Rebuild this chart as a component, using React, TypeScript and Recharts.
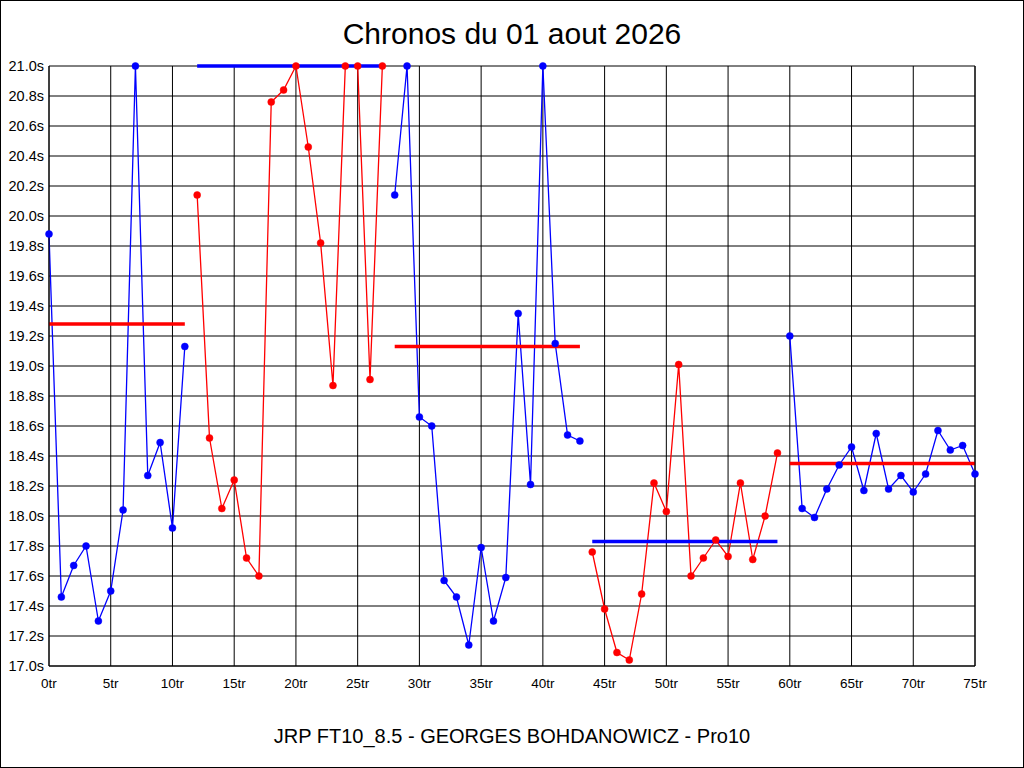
import React from "react";
import { LineChart, Line, XAxis, YAxis, CartesianGrid } from "recharts";

// Lap times per heat (seconds, values above 21.0 shown clipped at 21.0)
const heat1 = [19.88, 17.46, 17.67, 17.8, 17.3, 17.5, 18.04, 21.0, 18.27, 18.49, 17.92, 19.13];
const heat2 = [20.14, 18.52, 18.05, 18.24, 17.72, 17.6, 20.76, 20.84, 21.0, 20.46, 19.82, 18.87, 21.0, 21.0, 18.91, 21.0];
const heat3 = [20.14, 21.0, 18.66, 18.6, 17.57, 17.46, 17.14, 17.79, 17.3, 17.59, 19.35, 18.21, 21.0, 19.15, 18.54, 18.5];
const heat4 = [17.76, 17.38, 17.09, 17.04, 17.48, 18.22, 18.03, 19.01, 17.6, 17.72, 17.84, 17.73, 18.22, 17.71, 18.0, 18.42];
const heat5 = [19.2, 18.05, 17.99, 18.18, 18.34, 18.46, 18.17, 18.55, 18.18, 18.27, 18.16, 18.28, 18.57, 18.44, 18.47, 18.28];
const heats = [heat1, heat2, heat3, heat4, heat5];
const heatAverages = [19.28, 21.0, 19.13, 17.83, 18.35];

const xTicks = [0, 5, 10, 15, 20, 25, 30, 35, 40, 45, 50, 55, 60, 65, 70, 75];
const yTicks = [17.0, 17.2, 17.4, 17.6, 17.8, 18.0, 18.2, 18.4, 18.6, 18.8, 19.0, 19.2, 19.4, 19.6, 19.8, 20.0, 20.2, 20.4, 20.6, 20.8, 21.0];

const title = "Chronos du 01 aout 2026";
const subtitle = "JRP FT10_8.5 - GEORGES BOHDANOWICZ - Pro10";

type Row = {
  lap: number;
  blue: number | null;
  red: number | null;
  avgBlue: number | null;
  avgRed: number | null;
};

const data: Row[] = [];
{
  let lap = 0;
  heats.forEach((heat, h) => {
    heat.forEach((v) => {
      const even = h % 2 === 0;
      data.push({
        lap,
        blue: even ? v : null,
        red: even ? null : v,
        avgBlue: even ? null : heatAverages[h],
        avgRed: even ? heatAverages[h] : null,
      });
      lap += 1;
    });
  });
}

const BLUE = "#0000ff";
const RED = "#ff0000";
const FONT = "'Liberation Sans', Arial, Helvetica, sans-serif";

export default function App() {
  return (
    <div
      style={{
        position: "fixed",
        left: 0,
        top: 0,
        width: 1024,
        height: 768,
        background: "#fff",
        boxSizing: "border-box",
        border: "1px solid #000",
        fontFamily: FONT,
      }}
    >
      <div
        style={{
          position: "absolute",
          left: 0,
          top: 15,
          width: 1022,
          textAlign: "center",
          fontSize: 30,
          lineHeight: "36px",
          color: "#000",
        }}
      >
        {title}
      </div>
      <div style={{ position: "absolute", left: -1, top: -1 }}>
        <LineChart
          width={1024}
          height={768}
          data={data}
          margin={{ top: 66, right: 0, bottom: 0, left: 0 }}
        >
          <CartesianGrid
            yAxisId="left"
            stroke="#000"
            strokeWidth={1}
            strokeDasharray=""
          />
          <XAxis
            dataKey="lap"
            type="number"
            domain={[0, 75]}
            ticks={xTicks}
            interval={0}
            tickFormatter={(v: number) => `${v}tr`}
            tickLine={false}
            tickSize={0}
            tickMargin={12}
            axisLine={{ stroke: "#000" }}
            tick={{ fill: "#000", fontSize: 13.5, fontFamily: FONT }}
            height={102}
          />
          <YAxis
            yAxisId="left"
            type="number"
            domain={[17, 21]}
            ticks={yTicks}
            interval={0}
            tickFormatter={(v: number) => `${v.toFixed(1)}s`}
            tickLine={false}
            tickSize={0}
            tickMargin={5}
            width={49}
            axisLine={{ stroke: "#000" }}
            tick={{ fill: "#000", fontSize: 14.5, fontFamily: FONT }}
          />
          <YAxis
            yAxisId="right"
            orientation="right"
            type="number"
            domain={[17, 21]}
            ticks={yTicks}
            interval={0}
            tickFormatter={(v: number) => `${v.toFixed(1)}s`}
            tickLine={false}
            tickSize={0}
            tickMargin={5}
            width={49}
            axisLine={{ stroke: "#000" }}
            tick={{ fill: "#000", fontSize: 14.5, fontFamily: FONT, textAnchor: "start" }}
          />
          <Line yAxisId="left" dataKey="blue" stroke={BLUE} strokeWidth={1.3} dot={false} activeDot={false} isAnimationActive={false} connectNulls={false} />
          <Line yAxisId="left" dataKey="red" stroke={RED} strokeWidth={1.3} dot={false} activeDot={false} isAnimationActive={false} connectNulls={false} />
          <Line yAxisId="left" dataKey="avgRed" stroke={RED} strokeWidth={3.5} dot={false} activeDot={false} isAnimationActive={false} connectNulls={false} />
          <Line yAxisId="left" dataKey="avgBlue" stroke={BLUE} strokeWidth={3.5} dot={false} activeDot={false} isAnimationActive={false} connectNulls={false} />
          <Line yAxisId="left" dataKey="blue" stroke="none" dot={{ r: 3.5, fill: BLUE, stroke: BLUE, strokeWidth: 0.5 }} activeDot={false} isAnimationActive={false} />
          <Line yAxisId="left" dataKey="red" stroke="none" dot={{ r: 3.5, fill: RED, stroke: RED, strokeWidth: 0.5 }} activeDot={false} isAnimationActive={false} />
        </LineChart>
      </div>
      <div
        style={{
          position: "absolute",
          left: 0,
          top: 722,
          width: 1022,
          textAlign: "center",
          fontSize: 20,
          lineHeight: "26px",
          color: "#000",
        }}
      >
        {subtitle}
      </div>
    </div>
  );
}
